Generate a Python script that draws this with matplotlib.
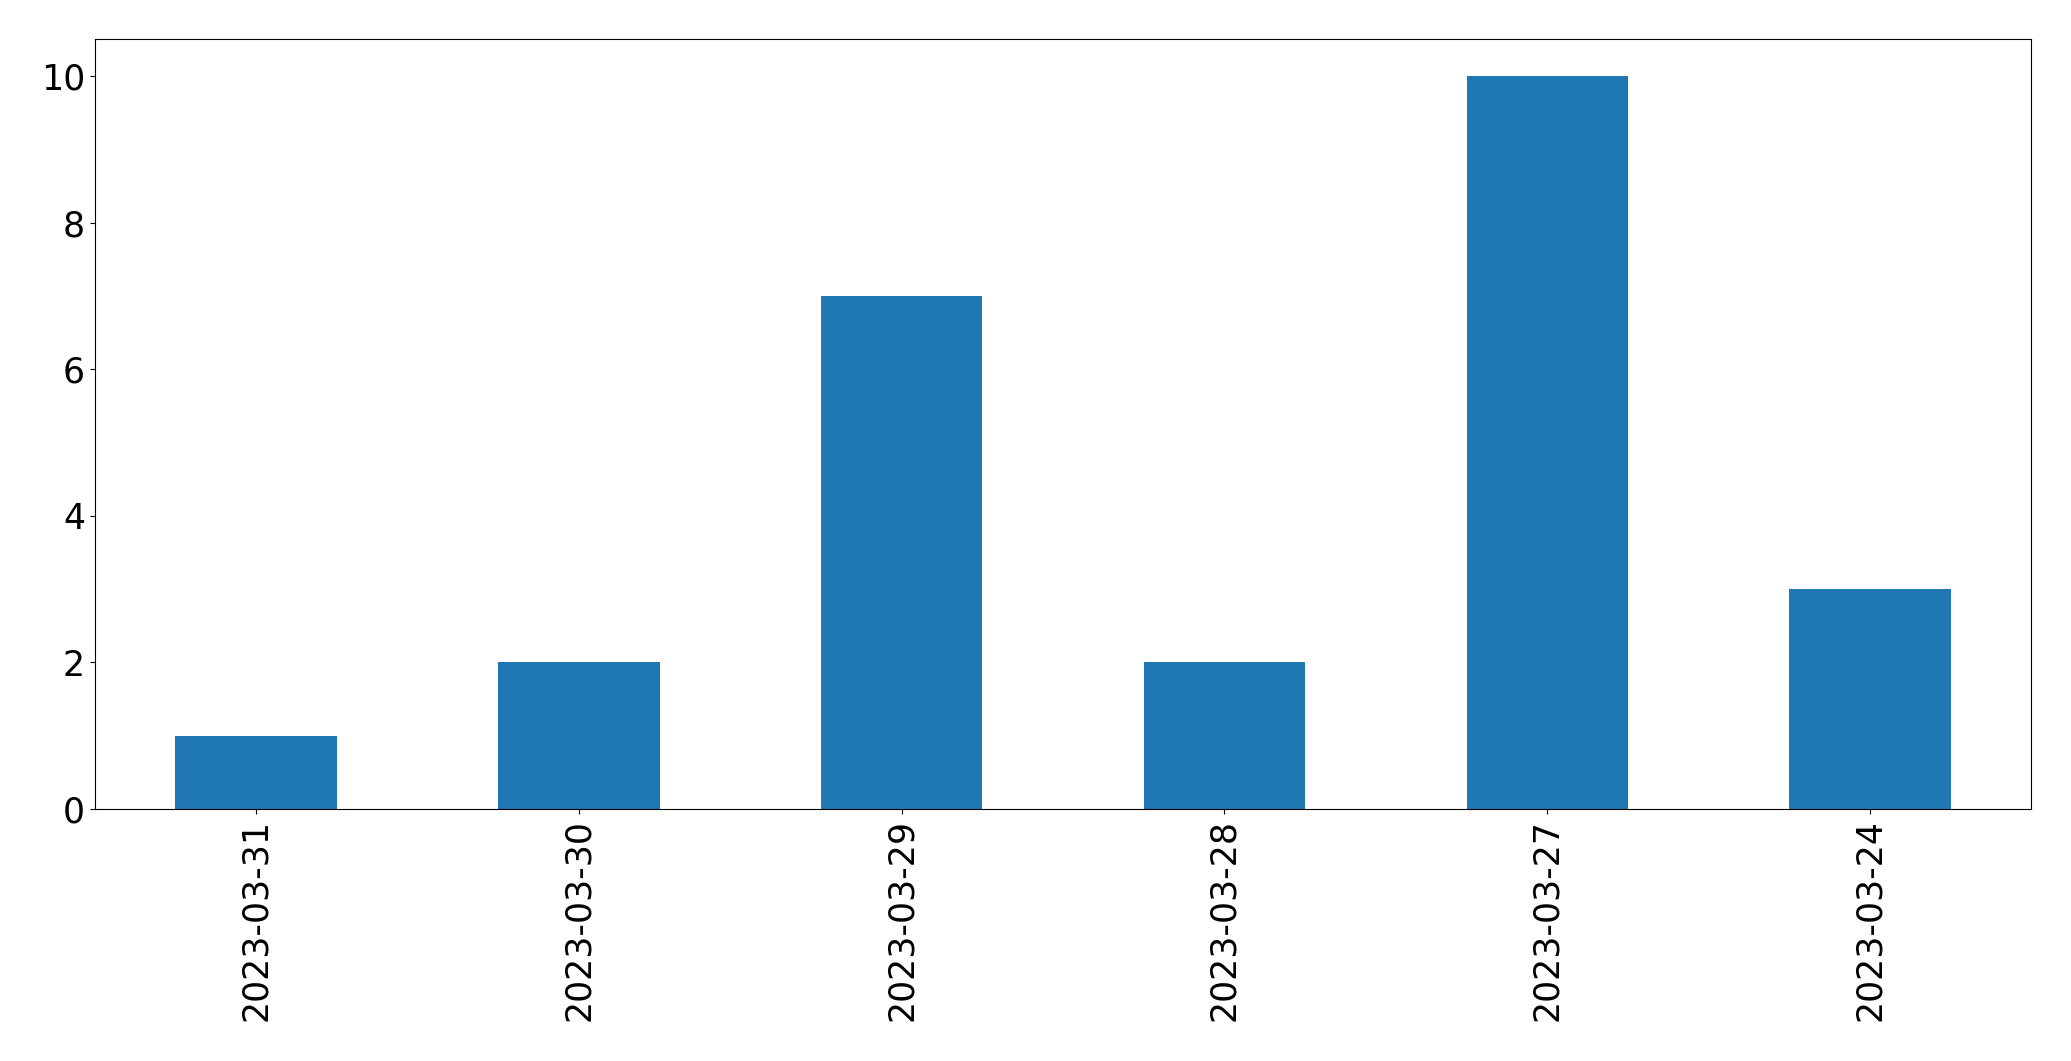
import matplotlib
matplotlib.use("Agg")
import matplotlib.pyplot as plt
import pandas as pd

dates = ["2023-03-31", "2023-03-30", "2023-03-29", "2023-03-28", "2023-03-27", "2023-03-24"]
counts = [1, 2, 7, 2, 10, 3]

fig = plt.figure(figsize=(20.71, 10.61), dpi=100)
ax = fig.add_axes([94.7/2071, 1-809/1061, (2031.4-94.7)/2071, (809-39.3)/1061])
s = pd.Series(counts, index=dates)
s.plot(kind="bar", ax=ax, color="#1f77b4")
ax.tick_params(labelsize=25)
fig.savefig("out.png", dpi=100)
